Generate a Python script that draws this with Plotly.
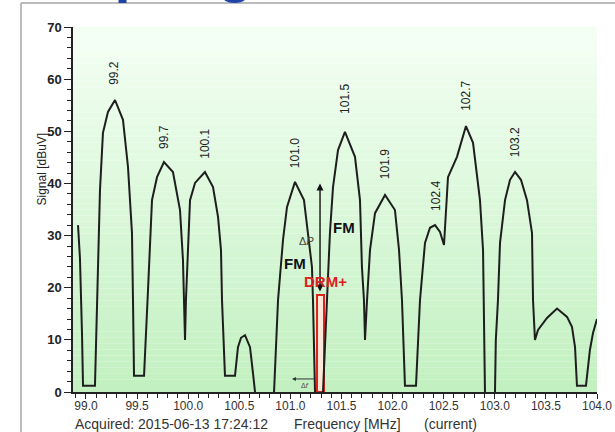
import plotly.graph_objects as go

# ---------------- data ----------------
FREQ_MHZ = [98.922, 98.941, 98.961, 98.971, 99.088, 99.108, 99.127, 99.137, 99.166, 99.215,
            99.284, 99.362, 99.411, 99.450, 99.460, 99.470, 99.568, 99.587, 99.607, 99.646,
            99.695, 99.763, 99.851, 99.920, 99.949, 99.959, 99.969, 99.978, 99.998, 100.018,
            100.067, 100.164, 100.243, 100.292, 100.321, 100.331, 100.360, 100.458, 100.487, 100.517,
            100.556, 100.605, 100.634, 100.654, 100.683, 100.820, 100.840, 100.879, 100.898, 100.928,
            100.967, 101.045, 101.133, 101.172, 101.211, 101.221, 101.241, 101.280, 101.319, 101.358,
            101.387, 101.417, 101.466, 101.534, 101.632, 101.681, 101.700, 101.720, 101.730, 101.750,
            101.779, 101.828, 101.926, 102.023, 102.063, 102.092, 102.121, 102.229, 102.268, 102.317,
            102.366, 102.415, 102.464, 102.503, 102.542, 102.630, 102.718, 102.787, 102.855, 102.885,
            102.894, 102.904, 102.953, 103.002, 103.010, 103.031, 103.051, 103.100, 103.149, 103.198,
            103.256, 103.315, 103.364, 103.374, 103.393, 103.423, 103.511, 103.609, 103.707, 103.755,
            103.785, 103.804, 103.892, 103.931, 103.961, 104.000]
SIGNAL_DBUV = [32.0, 25.7, 11.3, 1.2, 1.2, 17.6, 30.5, 38.7, 49.7, 53.7,
               56.0, 52.2, 43.2, 30.5, 17.6, 3.1, 3.1, 10.0, 19.6, 36.8,
               41.2, 44.1, 42.2, 34.9, 25.3, 17.6, 10.0, 17.6, 29.2, 36.8,
               40.1, 42.2, 39.3, 33.6, 27.2, 17.6, 3.1, 3.1, 8.6, 10.4,
               10.9, 8.6, 3.6, 0.0, -3.0, -3.0, 0.0, 17.6, 22.1, 29.2,
               35.5, 40.3, 36.8, 30.5, 24.0, 17.6, 0.0, -3.0, 0.0, 17.6,
               30.5, 39.3, 46.4, 49.9, 45.1, 36.8, 24.0, 17.6, 10.0, 17.6,
               27.2, 34.3, 37.8, 34.9, 27.2, 17.6, 1.2, 1.2, 17.6, 28.6,
               31.5, 32.0, 30.7, 28.2, 41.2, 45.1, 51.0, 47.8, 36.8, 27.2,
               17.6, 0.0, -3.0, 0.0, 10.0, 17.6, 28.6, 36.8, 40.7, 42.2,
               40.7, 36.8, 30.5, 17.6, 10.0, 11.9, 14.2, 16.0, 14.4, 12.5,
               8.6, 1.2, 1.2, 8.1, 11.3, 14.0]

STATION_LABELS = ["99.2", "99.7", "100.1", "101.0", "101.5", "101.9", "102.4", "102.7", "103.2"]
STATION_LABEL_X = [99.274, 99.763, 100.164, 101.045, 101.534, 101.926, 102.425, 102.718, 103.198]
STATION_LABEL_Y = [61.2, 48.9, 47.6, 45.8, 56.2, 43.7, 37.6, 56.8, 47.9]

DRM_CENTER = 101.295
DRM_WIDTH = 0.07
DRM_LEVEL = 18.6

DELTA_P_FREQ = 101.29
DELTA_P_RANGE = [19.0, 40.0]
DELTA_F_RANGE = [101.016, 101.25]
DELTA_F_LEVEL = 2.5

X_RANGE = [98.873, 104.0]
Y_RANGE = [0, 70]

FONT = "Liberation Sans, Arial, sans-serif"

fig = go.Figure()

# background gradient bands (white-green to green)
n_bands = 60
top = (244, 255, 244)
bot = (194, 240, 192)
for i in range(n_bands):
    t = i / (n_bands - 1)
    c = tuple(round(bot[k] + (top[k] - bot[k]) * t) for k in range(3))
    fig.add_shape(type="rect", xref="x domain", yref="y domain",
                  x0=0, x1=1, y0=i / n_bands, y1=(i + 1) / n_bands,
                  fillcolor=f"rgb({c[0]},{c[1]},{c[2]})", line_width=0, layer="below")

# spectrum trace
fig.add_trace(go.Scatter(x=FREQ_MHZ, y=SIGNAL_DBUV, mode="lines",
                         line=dict(color="#1e1e1e", width=2), showlegend=False,
                         hoverinfo="skip"))

# DRM+ block
fig.add_trace(go.Bar(x=[DRM_CENTER], y=[DRM_LEVEL], width=[DRM_WIDTH], base=0,
                     marker=dict(color="#fde7d9", line=dict(color="#d8261c", width=2)),
                     showlegend=False, hoverinfo="skip"))

# station labels
for txt, x, y in zip(STATION_LABELS, STATION_LABEL_X, STATION_LABEL_Y):
    fig.add_annotation(x=x, y=y, text=txt, textangle=-90, showarrow=False,
                       font=dict(family=FONT, size=12, color="#222"))

# delta P double arrow
fig.add_annotation(x=DELTA_P_FREQ, y=DELTA_P_RANGE[1], ax=DELTA_P_FREQ, ay=DELTA_P_RANGE[0],
                   xref="x", yref="y", axref="x", ayref="y", text="", showarrow=True,
                   arrowhead=2, startarrowhead=2, arrowside="end+start",
                   arrowsize=1, arrowwidth=1.4, arrowcolor="#111")
fig.add_annotation(x=101.162, y=29.0, text="Δ<i>P</i>", showarrow=False,
                   font=dict(family=FONT, size=11, color="#444"))

# delta f arrow
fig.add_annotation(x=DELTA_F_RANGE[0], y=DELTA_F_LEVEL, ax=DELTA_F_RANGE[1], ay=DELTA_F_LEVEL,
                   xref="x", yref="y", axref="x", ayref="y", text="", showarrow=True,
                   arrowhead=2, arrowsize=0.8, arrowwidth=1, arrowcolor="#333")
fig.add_annotation(x=101.143, y=1.2, text="Δ<i>f</i>", showarrow=False,
                   font=dict(family=FONT, size=7, color="#444"))

# FM / DRM+ labels
fig.add_annotation(x=101.045, y=24.7, text="<b>FM</b>", showarrow=False,
                   font=dict(family=FONT, size=15, color="#111"))
fig.add_annotation(x=101.524, y=31.5, text="<b>FM</b>", showarrow=False,
                   font=dict(family=FONT, size=15, color="#111"))
fig.add_annotation(x=101.339, y=21.1, text="<b>DRM+</b>", showarrow=False,
                   font=dict(family=FONT, size=15, color="#dd2020"))

# y axis title (placed near top like the reference)
fig.add_annotation(xref="paper", yref="paper", x=-0.0763, y=0.715, text="Signal [dBuV]",
                   textangle=-90, showarrow=False,
                   font=dict(family=FONT, size=12, color="#222"))

# bottom caption
for txt, px in [("Acquired: 2015-06-13 17:24:12", 73), ("Frequency [MHz]", 292), ("(current)", 422)]:
    fig.add_annotation(xref="paper", yref="paper", x=(px - 73) / 524, y=(392 - 424) / 365,
                       xanchor="left", yanchor="middle", text=txt, showarrow=False,
                       font=dict(family=FONT, size=14, color="#333"))

# cut-off slide title at very top
fig.add_annotation(xref="paper", yref="paper", x=(-10 - 73) / 524, y=(392 + 30) / 365,
                   xanchor="left", yanchor="middle", text="<b>Sampling</b>", showarrow=False,
                   font=dict(family=FONT, size=58, color="#1f44a6"))

# outer frame lines
fx = (21 - 73) / 524
fy = (392 - 3) / 365
fig.add_shape(type="line", xref="paper", yref="paper", x0=fx, x1=1.1, y0=fy, y1=fy,
              line=dict(color="#a6a6a6", width=1.5))
fig.add_shape(type="line", xref="paper", yref="paper", x0=fx, x1=fx, y0=fy, y1=-0.2,
              line=dict(color="#a6a6a6", width=1.5))

fig.update_layout(
    width=615, height=432,
    margin=dict(l=73, r=18, t=27, b=40, autoexpand=False),
    paper_bgcolor="white", plot_bgcolor="white",
    bargap=0,
    xaxis=dict(range=X_RANGE, tick0=99.0, dtick=0.5, tickformat=".1f",
               showgrid=False, zeroline=False, showline=True, linecolor="#222", linewidth=1.5,
               ticks="outside", ticklen=5, tickwidth=1.2, tickcolor="#222",
               ticklabelstandoff=-3,
               minor=dict(dtick=0.1, tick0=99.0, ticks="outside", ticklen=4, tickcolor="#222", showgrid=False),
               tickfont=dict(family=FONT, size=12, color="#333")),
    yaxis=dict(range=Y_RANGE, dtick=10, showgrid=False, zeroline=False,
               showline=True, linecolor="#222", linewidth=1.5,
               ticks="outside", ticklen=7, tickwidth=1.2, tickcolor="#222",
               minor=dict(dtick=2, ticks="outside", ticklen=4, tickcolor="#222", showgrid=False),
               tickfont=dict(family=FONT, size=13, color="#222", weight="bold")),
)

fig.write_html("out.html", config={"displayModeBar": False},
               post_script="document.body.style.margin='0';document.body.style.overflow='hidden';")
